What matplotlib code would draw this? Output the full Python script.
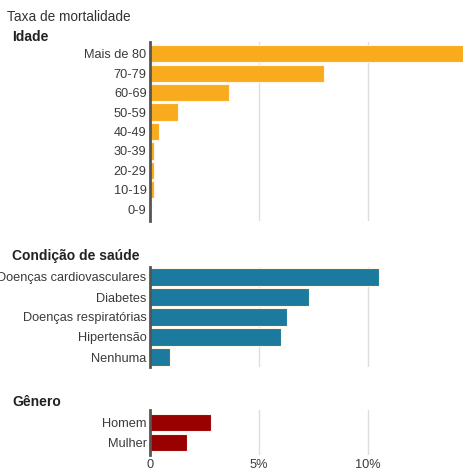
import matplotlib
matplotlib.use("Agg")
import matplotlib.pyplot as plt

plt.rcParams['font.family'] = ['Liberation Sans', 'DejaVu Sans']

# taxa de mortalidade (%)
idade = ["Mais de 80", "70-79", "60-69", "50-59", "40-49", "30-39", "20-29", "10-19", "0-9"]
idade_vals = [14.8, 8.0, 3.6, 1.3, 0.4, 0.2, 0.2, 0.2, 0.0]

condicao = ["Doenças cardiovasculares", "Diabetes", "Doenças respiratórias", "Hipertensão", "Nenhuma"]
condicao_vals = [10.5, 7.3, 6.3, 6.0, 0.9]

genero = ["Homem", "Mulher"]
genero_vals = [2.8, 1.7]

xticks = [0, 5, 10]
xticklabels = ["0", "5%", "10%"]

W, H = 463, 472
fig = plt.figure(figsize=(W / 100, H / 100), dpi=100)

x0 = 150
xmax = 14.35


def panel(top, bottom, labels, vals, color, header, header_y, show_ticks=False, pad=0.5):
    ax = fig.add_axes([x0 / W, 1 - bottom / H, (W - x0) / W, (bottom - top) / H])
    ys = list(range(len(labels)))
    ax.barh(ys, vals, height=0.88, color=color, edgecolor="#fff6e8", linewidth=0.8, zorder=3)
    ax.set_ylim(len(labels) - 1 + pad, -pad)
    ax.set_xlim(0, xmax)
    ax.set_yticks(ys)
    ax.set_yticklabels(labels, fontsize=9.2, color="#3a3a3a")
    ax.tick_params(axis="y", length=0, pad=2.5)
    for x in xticks[1:]:
        ax.axvline(x, color="#dddddd", linewidth=1, zorder=1)
    for s in ["top", "right", "bottom"]:
        ax.spines[s].set_visible(False)
    ax.spines["left"].set_color("#555555")
    ax.spines["left"].set_linewidth(2)
    ax.spines["left"].set_zorder(4)
    ax.set_xticks(xticks)
    if show_ticks:
        ax.set_xticklabels(xticklabels, fontsize=9.2, color="#3a3a3a")
        ax.tick_params(axis="x", length=0, pad=3)
    else:
        ax.tick_params(axis="x", length=0, labelbottom=False)
    fig.text(12 / W, 1 - header_y / H, header, fontsize=10, fontweight="bold",
             color="#222222", va="center", ha="left")
    return ax


panel(42, 221, idade, idade_vals, "#F9AB1E", "Idade", 37, pad=0.6)
panel(267, 367, condicao, condicao_vals, "#1B7A9D", "Condição de saúde", 256)
panel(410, 455, genero, genero_vals, "#990000", "Gênero", 402, show_ticks=True, pad=0.65)

fig.text(7 / W, 1 - 17 / H, "Taxa de mortalidade", fontsize=9.8, color="#333333",
         va="center", ha="left")

fig.savefig("out.png", dpi=100)
